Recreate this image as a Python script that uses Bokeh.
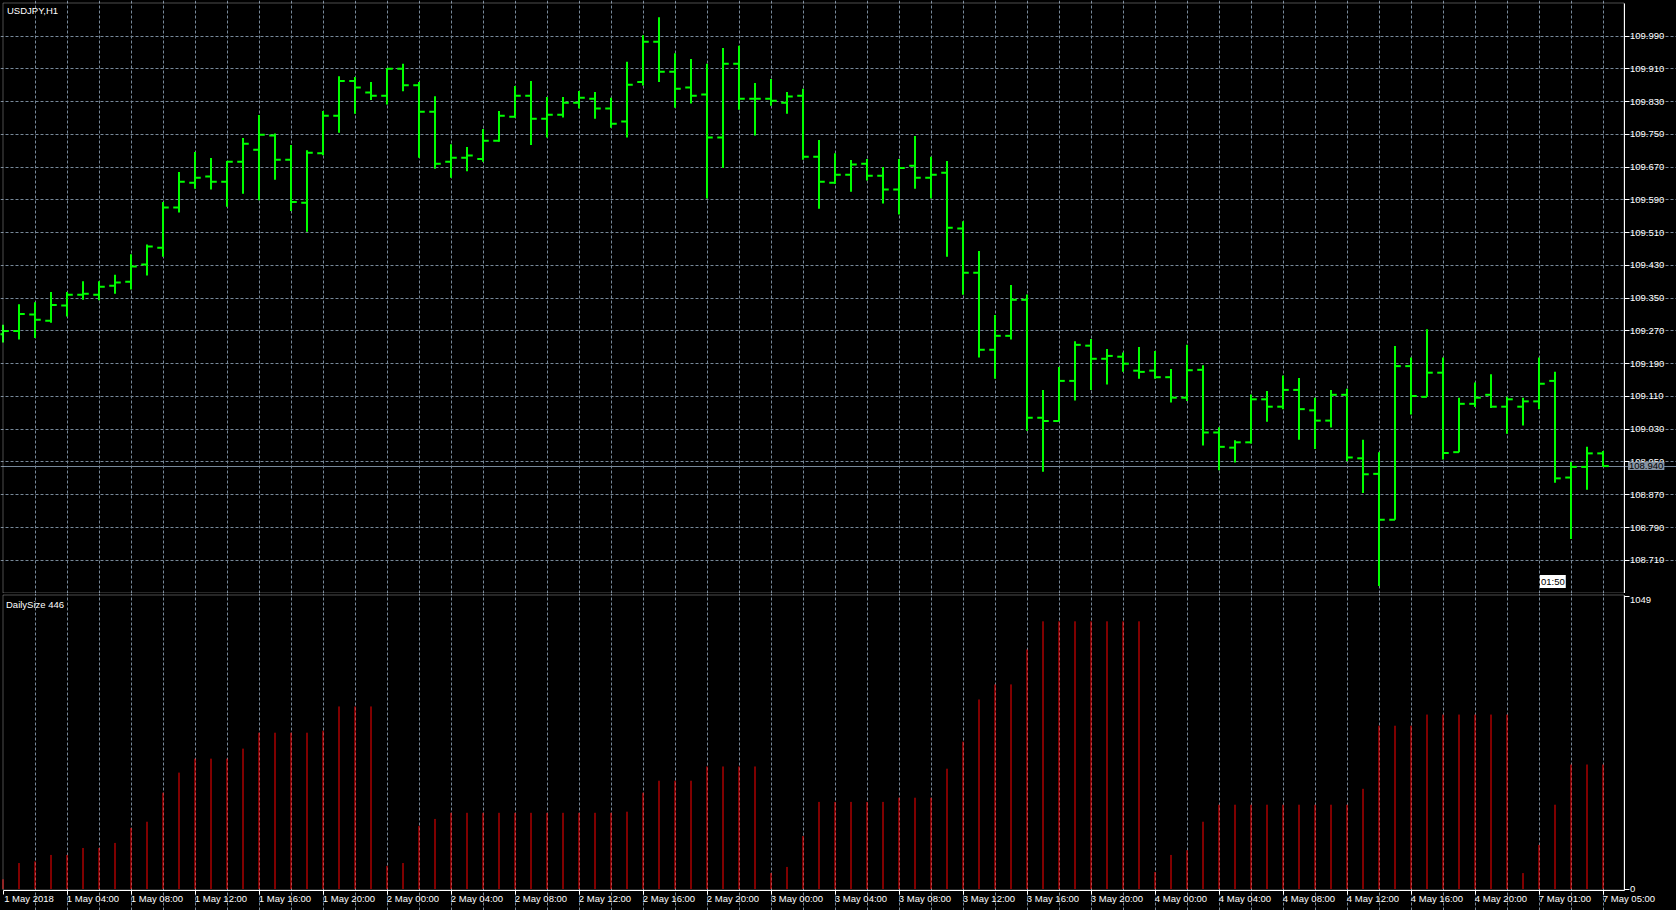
from bokeh.plotting import figure
from bokeh.layouts import column
from bokeh.models import (Range1d, LinearAxis, FixedTicker, Grid, Label, BoxAnnotation,
                          ColumnDataSource, NumeralTickFormatter, GlobalInlineStyleSheet)
from bokeh.embed import file_html
from bokeh.resources import INLINE

# ---------------- data (USDJPY, H1) ----------------
bar_index = list(range(101))

open_ = [109.262, 109.270, 109.310, 109.295, 109.332, 109.358, 109.358, 109.380, 109.390, 109.432,
         109.473, 109.571, 109.632, 109.647, 109.634, 109.683, 109.712, 109.747, 109.688, 109.583,
         109.704, 109.795, 109.880, 109.852, 109.844, 109.910, 109.870, 109.805, 109.683, 109.693,
         109.690, 109.734, 109.793, 109.844, 109.788, 109.798, 109.827, 109.837, 109.813, 109.781,
         109.878, 109.976, 109.903, 109.864, 109.847, 109.742, 109.922, 109.837, 109.837, 109.827,
         109.844, 109.695, 109.632, 109.651, 109.678, 109.649, 109.615, 109.673, 109.644, 109.656,
         109.520, 109.412, 109.224, 109.258, 109.346, 109.058, 109.050, 109.148, 109.234, 109.202,
         109.207, 109.173, 109.173, 109.157, 109.107, 109.175, 109.022, 108.985, 108.998, 109.103,
         109.085, 109.126, 109.076, 109.051, 109.114, 108.959, 108.921, 108.809, 109.184, 109.109,
         109.168, 108.974, 109.092, 109.114, 109.085, 109.085, 109.098, 109.148, 108.912, 108.938,
         108.971]
high = [109.285, 109.335, 109.340, 109.365, 109.365, 109.391, 109.391, 109.407, 109.457, 109.481,
        109.585, 109.658, 109.707, 109.692, 109.685, 109.741, 109.797, 109.752, 109.724, 109.711,
        109.807, 109.892, 109.890, 109.878, 109.911, 109.922, 109.878, 109.843, 109.726, 109.719,
        109.763, 109.807, 109.868, 109.880, 109.841, 109.841, 109.856, 109.853, 109.839, 109.927,
        109.992, 110.036, 109.948, 109.934, 109.922, 109.961, 109.966, 109.875, 109.885, 109.853,
        109.861, 109.736, 109.704, 109.687, 109.690, 109.670, 109.690, 109.746, 109.695, 109.685,
        109.538, 109.465, 109.309, 109.382, 109.359, 109.126, 109.182, 109.245, 109.250, 109.226,
        109.217, 109.231, 109.221, 109.177, 109.236, 109.186, 109.035, 109.003, 109.115, 109.123,
        109.161, 109.155, 109.107, 109.126, 109.129, 109.004, 108.974, 109.233, 109.205, 109.274,
        109.205, 109.107, 109.144, 109.164, 109.109, 109.107, 109.205, 109.170, 108.950, 108.987,
        108.977]
low = [109.242, 109.249, 109.253, 109.290, 109.305, 109.346, 109.345, 109.361, 109.371, 109.405,
       109.451, 109.559, 109.617, 109.615, 109.573, 109.605, 109.589, 109.639, 109.563, 109.512,
       109.699, 109.754, 109.800, 109.834, 109.823, 109.855, 109.693, 109.666, 109.644, 109.660,
       109.683, 109.732, 109.791, 109.724, 109.742, 109.791, 109.813, 109.788, 109.766, 109.742,
       109.869, 109.878, 109.815, 109.825, 109.593, 109.668, 109.810, 109.747, 109.820, 109.800,
       109.688, 109.568, 109.629, 109.610, 109.637, 109.581, 109.554, 109.617, 109.593, 109.451,
       109.358, 109.205, 109.153, 109.249, 109.026, 108.926, 109.050, 109.100, 109.126, 109.139,
       109.170, 109.153, 109.153, 109.095, 109.099, 108.990, 108.930, 108.949, 108.995, 109.048,
       109.079, 109.004, 108.982, 109.034, 108.952, 108.874, 108.647, 108.809, 109.066, 109.109,
       108.956, 108.974, 109.084, 109.082, 109.019, 109.039, 109.079, 108.899, 108.762, 108.882,
       108.938]
close = [109.270, 109.311, 109.297, 109.333, 109.358, 109.361, 109.378, 109.388, 109.427, 109.476,
         109.571, 109.634, 109.644, 109.634, 109.683, 109.727, 109.749, 109.688, 109.585, 109.705,
         109.795, 109.880, 109.864, 109.844, 109.910, 109.870, 109.805, 109.678, 109.693, 109.698,
         109.734, 109.795, 109.844, 109.788, 109.798, 109.827, 109.839, 109.813, 109.776, 109.871,
         109.976, 109.903, 109.861, 109.844, 109.742, 109.922, 109.837, 109.837, 109.832, 109.842,
         109.695, 109.634, 109.651, 109.676, 109.649, 109.615, 109.668, 109.644, 109.651, 109.522,
         109.412, 109.224, 109.258, 109.346, 109.058, 109.050, 109.148, 109.236, 109.202, 109.209,
         109.190, 109.170, 109.157, 109.107, 109.174, 109.022, 108.987, 108.998, 109.103, 109.085,
         109.126, 109.079, 109.051, 109.114, 108.961, 108.920, 108.809, 109.184, 109.111, 109.168,
         108.972, 109.092, 109.107, 109.085, 109.103, 109.098, 109.141, 108.910, 108.938, 108.971,
         108.940]

daily_size = [35, 93, 99, 122, 122, 147, 147, 165, 219, 241,
              345, 417, 467, 467, 467, 503, 560, 560, 560, 560,
              567, 654, 654, 654, 83, 93, 226, 251, 273, 273,
              273, 273, 273, 273, 273, 273, 273, 273, 273, 277,
              345, 388, 388, 388, 439, 439, 439, 439, 57, 79,
              190, 312, 312, 312, 312, 312, 327, 327, 327, 431,
              528, 679, 733, 733, 858, 959, 959, 959, 959, 959,
              959, 959, 61, 122, 139, 241, 302, 302, 302, 302,
              302, 302, 302, 302, 302, 359, 585, 585, 585, 625,
              625, 625, 625, 625, 625, 57, 158, 302, 446, 446,
              446]

price_ticks = [108.710, 108.790, 108.870, 108.950, 109.030, 109.110, 109.190, 109.270, 109.350,
               109.430, 109.510, 109.590, 109.670, 109.750, 109.830, 109.910, 109.990]
time_tick_pos = [0, 4, 8, 12, 16, 20, 24, 28, 32, 36, 40, 44, 48, 52, 56, 60, 64, 68, 72,
                 76, 80, 84, 88, 92, 96, 100]
time_tick_labels = ["1 May 2018", "1 May 04:00", "1 May 08:00", "1 May 12:00", "1 May 16:00",
                    "1 May 20:00", "2 May 00:00", "2 May 04:00", "2 May 08:00", "2 May 12:00",
                    "2 May 16:00", "2 May 20:00", "3 May 00:00", "3 May 04:00", "3 May 08:00",
                    "3 May 12:00", "3 May 16:00", "3 May 20:00", "4 May 00:00", "4 May 04:00",
                    "4 May 08:00", "4 May 12:00", "4 May 16:00", "4 May 20:00", "7 May 01:00",
                    "7 May 05:00"]
grid_x = list(range(2, 101, 2))
size_ticks = [0, 1049]
last_price = 108.940
timer_bar = 96
timer_text = "01:50"
symbol_text = "USDJPY,H1"
indicator_name = "DailySize"

# ---------------- layout helpers (pixel geometry of the terminal window) ----------------
W, H1, H2 = 1676, 593, 317


def bx(px):            # screen x -> bar index
    return (px - 2.5) / 16.0


def py(y):             # screen y (top pane) -> price
    return 109.99 - (y - 35.5) / 409.6


def sy(y):             # screen y (page) -> indicator value
    return (888.5 - y) / 0.2791


X_MIN, X_MAX = bx(0), bx(W)
BOX_L, BOX_R = bx(2.5), bx(1623.5)
P_BOT, P_TOP = py(592.5), py(2.5)
S_BOT, S_TOP = sy(889.5), sy(594.5)
LABEL_SHIFT = 1.625    # bars; MT4 draws time labels starting at their tick

FONT = "Liberation Sans"
FS = "9.5px"
GRID_COLOR = "#778899"
BAR_COLOR = "#00FF00"
HIST_COLOR = "#FF0000"

common = dict(output_backend="svg", toolbar_location=None,
              x_axis_type=None, y_axis_type=None,
              background_fill_color="black", border_fill_color="black",
              outline_line_color=None, min_border=0,
              min_border_left=0, min_border_right=0, min_border_top=0, min_border_bottom=0)


def style_axis(ax):
    ax.axis_line_color = "white"
    ax.major_tick_line_color = "white"
    ax.major_tick_in = 0
    ax.minor_tick_line_color = None
    ax.major_label_text_color = "white"
    ax.major_label_text_font = FONT
    ax.major_label_text_font_size = FS


def dashed_grid(dim, ticks, bounds):
    return Grid(dimension=dim, ticker=FixedTicker(ticks=ticks), bounds=bounds,
                grid_line_color=GRID_COLOR, grid_line_dash="3 2", grid_line_width=1)


# ---------------- main price pane ----------------
x_range = Range1d(X_MIN, X_MAX)
p1 = figure(width=W, height=H1, x_range=x_range, y_range=Range1d(py(H1), py(0)), **common)

p1.add_layout(dashed_grid(0, grid_x, (P_BOT, P_TOP)))
p1.add_layout(dashed_grid(1, price_ticks, (BOX_L, BOX_R)))
p1.add_layout(Grid(dimension=1, ticker=FixedTicker(ticks=[last_price]), bounds=(BOX_L, BOX_R),
                   grid_line_color=GRID_COLOR, grid_line_width=1))

src = ColumnDataSource(dict(x=bar_index, o=open_, h=high, l=low, c=close,
                            xl=[i - 0.36 for i in bar_index],
                            xr=[i + 0.36 for i in bar_index]))
p1.segment(x0="x", y0="l", x1="x", y1="h", source=src, line_color=BAR_COLOR, line_width=2)
p1.segment(x0="xl", y0="o", x1="x", y1="o", source=src, line_color=BAR_COLOR, line_width=2)
p1.segment(x0="x", y0="c", x1="xr", y1="c", source=src, line_color=BAR_COLOR, line_width=2)

p1.add_layout(BoxAnnotation(left=BOX_L, right=BOX_R, bottom=P_BOT, top=P_TOP,
                            fill_color=None, line_color="white", line_width=1))

yax1 = LinearAxis(ticker=FixedTicker(ticks=price_ticks), fixed_location=BOX_R,
                  bounds=(P_BOT, P_TOP), formatter=NumeralTickFormatter(format="0.000"))
style_axis(yax1)
yax1.major_tick_out = 5
yax1.major_label_standoff = 1
p1.add_layout(yax1, "right")

p1.add_layout(Label(x=BOX_L, y=P_TOP, x_offset=4, y_offset=-2, text=symbol_text,
                    text_baseline="top", text_align="left", text_color="white",
                    text_font=FONT, text_font_size=FS))
p1.add_layout(Label(x=BOX_R, y=last_price, x_offset=4, text=f"{last_price:.3f}",
                    text_baseline="middle", text_align="left", text_color="black",
                    background_fill_color="#8693a3", padding=1,
                    text_font=FONT, text_font_size=FS))
p1.add_layout(Label(x=timer_bar, y=P_BOT, x_offset=1, y_offset=5, text=timer_text,
                    text_baseline="bottom", text_align="left", text_color="black",
                    background_fill_color="white", padding=1,
                    text_font=FONT, text_font_size=FS))

# ---------------- indicator pane ----------------
p2 = figure(width=W, height=H2, x_range=x_range, y_range=Range1d(sy(H1 + H2), sy(H1)), **common)
p2.add_layout(dashed_grid(0, grid_x, (S_BOT, S_TOP)))

src2 = ColumnDataSource(dict(x=bar_index, v=daily_size))
p2.segment(x0="x", y0=0, x1="x", y1="v", source=src2, line_color=HIST_COLOR, line_width=1)

p2.add_layout(BoxAnnotation(left=BOX_L, right=BOX_R, bottom=S_BOT, top=S_TOP,
                            fill_color=None, line_color="white", line_width=1))

# time axis: tick marks at the bar, labels starting at the tick
xax_ticks = LinearAxis(ticker=FixedTicker(ticks=time_tick_pos), fixed_location=S_BOT,
                       bounds=(BOX_L, BOX_R))
style_axis(xax_ticks)
xax_ticks.major_tick_out = 4
xax_ticks.major_label_text_color = None
p2.add_layout(xax_ticks, "below")

label_pos = [t + LABEL_SHIFT for t in time_tick_pos]
xax_labels = LinearAxis(ticker=FixedTicker(ticks=label_pos), fixed_location=S_BOT,
                        major_label_overrides={p: lab for p, lab in zip(label_pos, time_tick_labels)})
style_axis(xax_labels)
xax_labels.axis_line_color = None
xax_labels.major_tick_line_color = None
xax_labels.major_tick_out = 0
xax_labels.major_label_standoff = 3
p2.add_layout(xax_labels, "below")

yax2 = LinearAxis(ticker=FixedTicker(ticks=size_ticks), fixed_location=BOX_R,
                  bounds=(S_BOT, S_TOP), major_label_overrides={size_ticks[-1]: ""})
style_axis(yax2)
yax2.major_tick_out = 5
yax2.major_label_standoff = 1
p2.add_layout(yax2, "right")
p2.add_layout(Label(x=BOX_R, y=size_ticks[-1], x_offset=6, y_offset=-4, text=str(size_ticks[-1]),
                    text_baseline="middle", text_align="left", text_color="white",
                    text_font=FONT, text_font_size=FS))

p2.add_layout(Label(x=BOX_L, y=S_TOP, x_offset=3, y_offset=-4,
                    text=f"{indicator_name} {daily_size[-1]}",
                    text_baseline="top", text_align="left", text_color="white",
                    text_font=FONT, text_font_size=FS))

layout = column(p1, p2, spacing=0,
                stylesheets=[GlobalInlineStyleSheet(css="body { background-color: #000000; }")])

open("out.html", "w").write(file_html(layout, INLINE))
